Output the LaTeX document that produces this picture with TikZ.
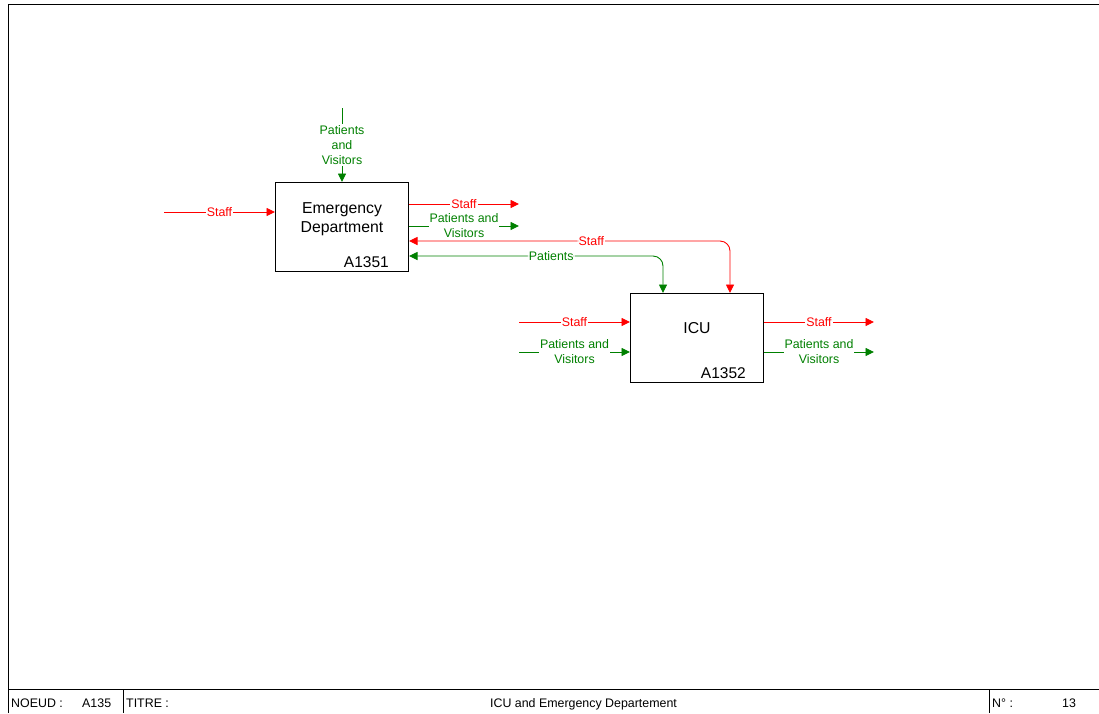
\documentclass[tikz,border=0pt]{standalone}
\usepackage{fontspec}
\setmainfont{Liberation Sans}
\usetikzlibrary{arrows.meta}
\definecolor{flowred}{RGB}{255,0,0}
\definecolor{flowgreen}{RGB}{0,128,0}

\begin{document}
\begin{tikzpicture}[x=1pt,y=-1pt,
  activity/.style={draw=black, line width=1pt, minimum width=133pt, minimum height=89pt,
    inner sep=0pt, anchor=north west},
  boxtext/.style={font=\fontsize{15.8}{19}\selectfont, align=center, inner sep=0pt},
  boxid/.style={font=\fontsize{15.5}{17}\selectfont, inner sep=0pt},
  tip/.tip={Triangle[length=8.5pt,width=8pt]},
  flow/.style={line width=0.9pt, -tip},
  biflow/.style={line width=0.9pt, tip-tip},
  redflow/.style={flow, draw=flowred},
  greenflow/.style={flow, draw=flowgreen},
  lbl/.style={fill=white, inner sep=1pt, align=center,
    font=\fontsize{12.4}{15}\selectfont},
  redlbl/.style={lbl, text=flowred},
  greenlbl/.style={lbl, text=flowgreen},
  foot/.style={font=\fontsize{12.4}{14}\selectfont, inner sep=0pt, anchor=base west},
  frame/.style={draw=black, line width=0.9pt}]

\useasboundingbox (0,0) rectangle (1099,713);

% sheet frame and title block
\draw[frame] (8,713) -- (8,4) -- (1099,4);
\draw[frame] (8,689) -- (1099,689);
\draw[frame] (123,689) -- (123,713);
\draw[frame] (989,689) -- (989,713);
\node[foot] (noeud) at (11,707) {NOEUD :};
\node[foot] (noeudval) at (82,707) {A135};
\node[foot] (titre) at (126,707) {TITRE :};
\node[foot, anchor=base] (title) at (583.5,707) {ICU and Emergency Departement};
\node[foot] (num) at (992,707) {N° :};
\node[foot] (numval) at (1062,707) {13};

% activities
\node[activity] (ed) at (275,182) {};
\node[boxtext] (edname) at (342,219.5) {Emergency\\Department};
\node[boxid, anchor=base east] (edid) at (389,267.5) {A1351};

\node[activity] (icu) at (630,293) {};
\node[boxtext] (icuname) at (697,328) {ICU};
\node[boxid, anchor=base east] (icuid) at (746,378) {A1352};

% free ends of boundary arrows
\coordinate (edtop) at (342,108);
\coordinate (edstaffin) at (164,212);
\coordinate (edstaffout) at (519,204);
\coordinate (edpvout) at (519,226);
\coordinate (icustaffin) at (519,322);
\coordinate (icupvin) at (519,352);
\coordinate (icustaffout) at (874,322);
\coordinate (icupvout) at (874,352);

% Emergency Department flows
\draw[greenflow] (edtop) -- node[greenlbl]{Patients\\and\\Visitors} (ed.north);
\draw[redflow] (edstaffin) -- node[redlbl]{Staff} (ed.west |- edstaffin);
\draw[redflow] (ed.east |- edstaffout) -- node[redlbl]{Staff} (edstaffout);
\draw[greenflow] (ed.east |- edpvout) -- node[greenlbl]{Patients and\\Visitors} (edpvout);

% two-way flows between ICU and Emergency Department
\draw[redflow, biflow, rounded corners=10pt] (icu.north -| 730,0) |- node[redlbl, pos=0.716]{Staff} (ed.east |- 0,241);
\draw[greenflow, biflow, rounded corners=10pt] (icu.north -| 663,0) |- node[greenlbl, pos=0.72]{Patients} (ed.east |- 0,256);

% ICU flows
\draw[redflow] (icustaffin) -- node[redlbl]{Staff} (icu.west |- icustaffin);
\draw[greenflow] (icupvin) -- node[greenlbl]{Patients and\\Visitors} (icu.west |- icupvin);
\draw[redflow] (icu.east |- icustaffout) -- node[redlbl]{Staff} (icustaffout);
\draw[greenflow] (icu.east |- icupvout) -- node[greenlbl]{Patients and\\Visitors} (icupvout);

\end{tikzpicture}
\end{document}
